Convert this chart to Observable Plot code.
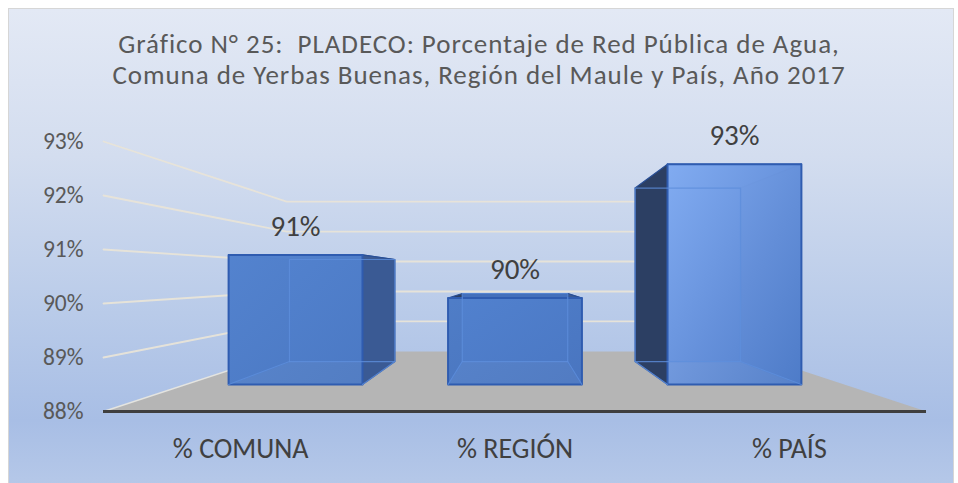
<!DOCTYPE html>
<html><head><meta charset="utf-8">
<script src="https://cdn.jsdelivr.net/npm/d3@7"></script>
<script src="https://cdn.jsdelivr.net/npm/@observablehq/plot@0.6"></script>
<style>
html,body{margin:0;padding:0;background:#fff;}
body{width:958px;height:483px;overflow:hidden;position:relative;font-family:Carlito,Lato,sans-serif;}
#frame{position:absolute;left:8px;top:8px;width:944px;height:490px;border:1.5px solid #d6d6d6;
  background:linear-gradient(180deg,#e3e9f5 0%,#d3ddef 30%,#b9cbe9 62%,#a8bee5 84%,#b8cae9 100%);}
#title{position:absolute;left:0;top:28px;width:958px;text-align:center;color:#595959;font-size:27px;letter-spacing:0.95px;line-height:31px;white-space:pre;}
#chart{position:absolute;left:0;top:100px;}
</style></head>
<body>
<div id="frame"></div>
<div id="title"></div>
<div id="chart"></div>
<script>
// ---- data ----
const titleLines = ["Gráfico N° 25:  PLADECO: Porcentaje de Red Pública de Agua,",
                    "Comuna de Yerbas Buenas, Región del Maule y País, Año 2017"];
const categories = ["% COMUNA", "% REGIÓN", "% PAÍS"];
const values = [91.0, 90.0, 93.1];
const valueLabels = ["91%", "90%", "93%"];
const yTicks = [88, 89, 90, 91, 92, 93];
const yTickLabels = ["88%", "89%", "90%", "91%", "92%", "93%"];

document.getElementById("title").textContent = titleLines.join("\n");

// ---- pseudo 3D geometry (perspective toward centre of the front plane) ----
const yMin = yTicks[0], yMax = yTicks[yTicks.length - 1];
const nCat = categories.length;
const VX = nCat / 2, VY = (yMin + yMax) / 2;
const sBack = 0.555, sBarFront = 0.8, sBarBack = 0.63, barHalf = 0.305;
const proj = (x, v, s) => ({x: VX + s * (x - VX), y: VY + s * (v - VY)});

// floor
const floor = [[0, 1], [0, sBack], [nCat, sBack], [nCat, 1]].map(([x, s]) => ({id: "floor", ...proj(x, yMin, s)}));
// gridlines on side wall and back wall
const grid = [];
yTicks.slice(1).forEach(t => {
  [[0, 1], [0, sBack], [nCat, sBack]].forEach(([x, s]) => grid.push({id: t, ...proj(x, t, s)}));
});
const floorEdge = [[0, 1], [0, sBack]].map(([x, s]) => ({id: "fe", ...proj(x, yMin, s)}));

// bars
function face(id, pts) { return pts.map(p => ({id, ...p})); }
const frontFill = ["url(#gFront0)", "url(#gFront1)", "url(#gFront2)"];
const marks = [];
marks.push(Plot.line(floor, {x: "x", y: "y", z: "id", fill: "#b5b5b5", stroke: "none"}));
marks.push(Plot.line(floorEdge, {x: "x", y: "y", z: "id", stroke: "#e4e4e0", strokeWidth: 1.5}));
marks.push(Plot.line(grid, {x: "x", y: "y", z: "id", stroke: "#e8e4d8", strokeWidth: 1.8, strokeOpacity: 0.95}));

values.forEach((v, i) => {
  const x0 = i + 0.5 - barHalf, x1 = i + 0.5 + barHalf;
  const P = (x, y, s) => proj(x, y, s);
  const back = face("back", [P(x0, yMin, sBarBack), P(x1, yMin, sBarBack), P(x1, v, sBarBack), P(x0, v, sBarBack)]);
  const left = face("left", [P(x0, yMin, sBarFront), P(x0, yMin, sBarBack), P(x0, v, sBarBack), P(x0, v, sBarFront)]);
  const right = face("right", [P(x1, yMin, sBarFront), P(x1, yMin, sBarBack), P(x1, v, sBarBack), P(x1, v, sBarFront)]);
  const top = face("top", [P(x0, v, sBarFront), P(x1, v, sBarFront), P(x1, v, sBarBack), P(x0, v, sBarBack)]);
  const front = face("front", [P(x0, yMin, sBarFront), P(x1, yMin, sBarFront), P(x1, v, sBarFront), P(x0, v, sBarFront), P(x0, yMin, sBarFront)]);
  const leftVisible = x0 > VX - 0.5;   // bar to the right of centre shows its left side
  const rightVisible = x1 < VX + 0.5;
  marks.push(Plot.line(back, {x: "x", y: "y", z: "id", fill: "#4a78c6", stroke: "none"}));
  marks.push(Plot.line(top, {x: "x", y: "y", z: "id", fill: "#4470bb", stroke: "#2f5aa8", strokeWidth: 1}));
  marks.push(Plot.line(left, {x: "x", y: "y", z: "id", fill: leftVisible ? "#2c3f63" : "#3d66ad", stroke: "#2a4f95", strokeWidth: 1.2}));
  marks.push(Plot.line(right, {x: "x", y: "y", z: "id", fill: rightVisible ? "#3a5a94" : "#3d66ad", stroke: "#2a4f95", strokeWidth: 1.2}));
  marks.push(Plot.line(front, {x: "x", y: "y", z: "id", fill: frontFill[i], fillOpacity: 0.93, stroke: "#2f5cb0", strokeWidth: 2}));
  // hidden (back) edges seen through the translucent front
  const hidden = [
    ...face("h1", [P(x0, yMin, sBarFront), P(x0, yMin, sBarBack), P(x1, yMin, sBarBack), P(x1, yMin, sBarFront)]),
    ...face("h2", [P(x0, yMin, sBarBack), P(x0, v, sBarBack), P(x1, v, sBarBack), P(x1, yMin, sBarBack)])
  ];
  marks.push(Plot.line(hidden, {x: "x", y: "y", z: "id", stroke: "#5e8fdc", strokeWidth: 1.2, strokeOpacity: 0.8}));
});

// data labels at front-top centre of each bar
const labelData = values.map((v, i) => ({...proj(i + 0.5, v, sBarFront), t: valueLabels[i]}));
marks.push(Plot.text(labelData, {x: "x", y: "y", text: "t", dy: -28, fontSize: 29, fill: "#404040"}));

// front axis line
marks.push(Plot.ruleY([yMin], {stroke: "#3f3f3f", strokeWidth: 3.2}));

// category labels
marks.push(Plot.text(categories, {x: (d, i) => i + 0.5, y: yMin, text: d => d, dy: 38, fontSize: 28, fill: "#404040", style: "letter-spacing:0.8px"}));

// y axis labels
marks.push(Plot.text(yTicks, {x: 0, y: d => d, text: (d, i) => yTickLabels[i], textAnchor: "end", dx: -20, fontSize: 23.5, fill: "#595959"}));

const chart = Plot.plot({
  width: 958, height: 383,
  marginTop: 41, marginBottom: 72, marginLeft: 103, marginRight: 32,
  x: {type: "linear", domain: [0, nCat], axis: null},
  y: {type: "linear", domain: [yMin, yMax], axis: null},
  style: {background: "transparent", fontFamily: "Carlito, Lato, sans-serif", overflow: "visible"},
  marks
});
chart.insertAdjacentHTML("afterbegin", `<defs>
<linearGradient id="gFront0" x1="0" y1="0" x2="1" y2="1"><stop offset="0" stop-color="#5585d1"/><stop offset="1" stop-color="#4b79c4"/></linearGradient>
<linearGradient id="gFront1" x1="0" y1="0" x2="1" y2="1"><stop offset="0" stop-color="#5282cf"/><stop offset="1" stop-color="#4a77c3"/></linearGradient>
<linearGradient id="gFront2" x1="0" y1="0" x2="1" y2="1"><stop offset="0" stop-color="#86b0f5"/><stop offset="0.55" stop-color="#6792dc"/><stop offset="1" stop-color="#4f7dca"/></linearGradient>
</defs>`);
document.getElementById("chart").appendChild(chart);
</script>
</body></html>
